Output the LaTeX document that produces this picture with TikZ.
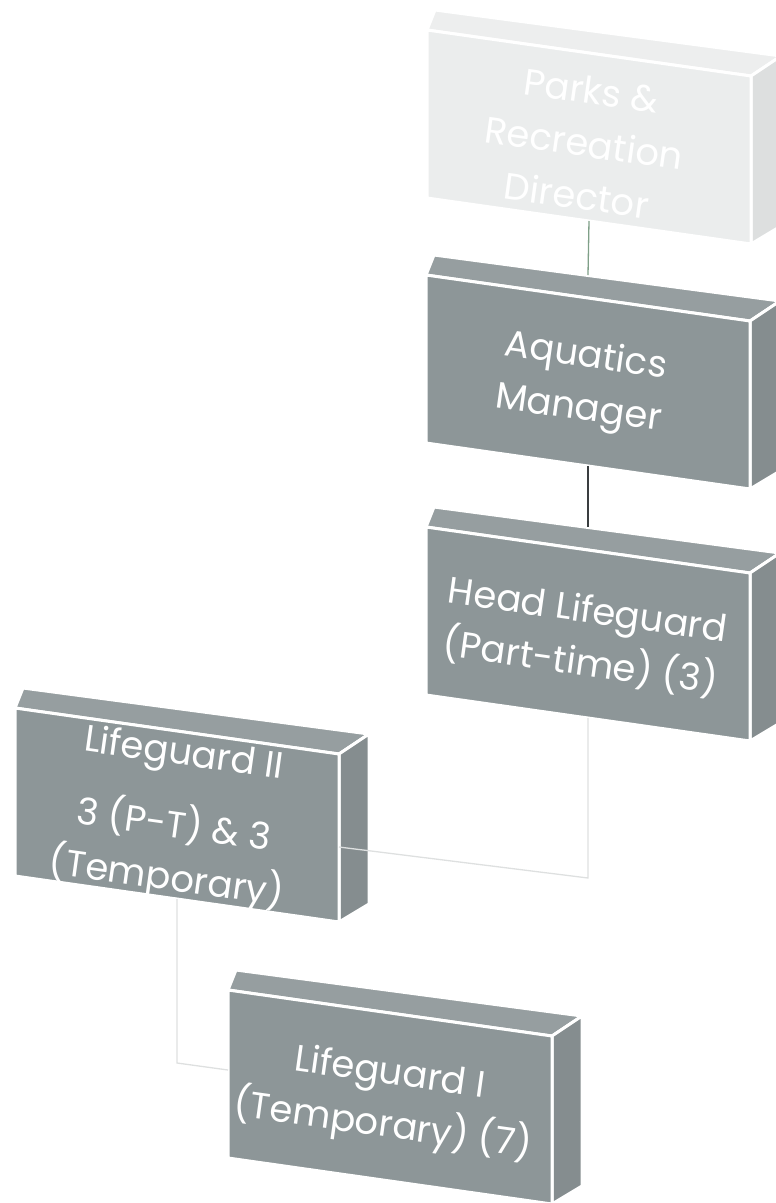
\documentclass[tikz,border=0pt]{standalone}
\usepackage{fontspec}
\setmainfont{Poppins}
\definecolor{boxgray}{RGB}{141,150,152}
\definecolor{ghost}{RGB}{235,237,237}
\definecolor{linkgreen}{RGB}{127,160,136}
\definecolor{linkdark}{RGB}{58,62,64}
\definecolor{linklight}{RGB}{222,224,224}
\tikzset{
  face/.style={draw=white, line width=3pt, line join=round},
  boxtext/.style={text=white, align=center, rotate=-8, inner sep=0pt,
    font=\fontsize{37}{53}\selectfont},
  link/.style={line width=1.3pt}
}
\begin{document}
\begin{tikzpicture}[x=1pt,y=-1pt]
  \useasboundingbox (0,0) rectangle (776,1203);
  \foreach \n/\x/\y/\c in {dir/427/30/ghost, mgr/426/275/boxgray, head/426/527/boxgray,
                           lgb/15/708/boxgray, lga/228/990/boxgray}{
    \filldraw[face, fill=\c!92!white] (\x,\y) -- (\x+8,\y-20) -- (\x+354,\y+26) -- (\x+324,\y+46) -- cycle;
    \filldraw[face, fill=\c!94!black] (\x+324,\y+46) -- (\x+354,\y+26) -- (\x+354,\y+196) -- (\x+324,\y+214) -- cycle;
    \filldraw[face, fill=\c] (\x,\y) -- (\x+324,\y+46) -- (\x+324,\y+214) -- (\x,\y+168) -- cycle;
    \coordinate (\n-k) at (\x+162,\y);
    \coordinate (\n-b) at (\x+162,\y+191);
    \coordinate (\n-r) at (\x+324,\y+139);
    \coordinate (\n-l) at (\x,\y+80);
  }
  \node[boxtext] (dirtext) at (584,143) {Parks \&\\Recreation\\Director};
  \node[boxtext] (mgrtext) at (582,384) {Aquatics\\Manager};
  \node[boxtext] (headtext) at (584,638) {Head Lifeguard\\(Part-time) (3)};
  \node[boxtext] (lgbtext) at (175,818) {Lifeguard II\\[20pt]3 (P-T) \& 3\\(Temporary)};
  \node[boxtext] (lgatext) at (386,1101) {Lifeguard I\\(Temporary) (7)};
  \coordinate (bend1) at (588,878);
  \coordinate (bend2) at (177,1063);
  \draw[link, linkgreen] (dir-b) -- (mgr-k);
  \draw[link, linkdark] (mgr-b) -- (head-k);
  \draw[link, linklight] (head-b) -- (bend1) -- (lgb-r);
  \draw[link, linklight] (lgb-b) -- (bend2) -- (lga-l);
\end{tikzpicture}
\end{document}
